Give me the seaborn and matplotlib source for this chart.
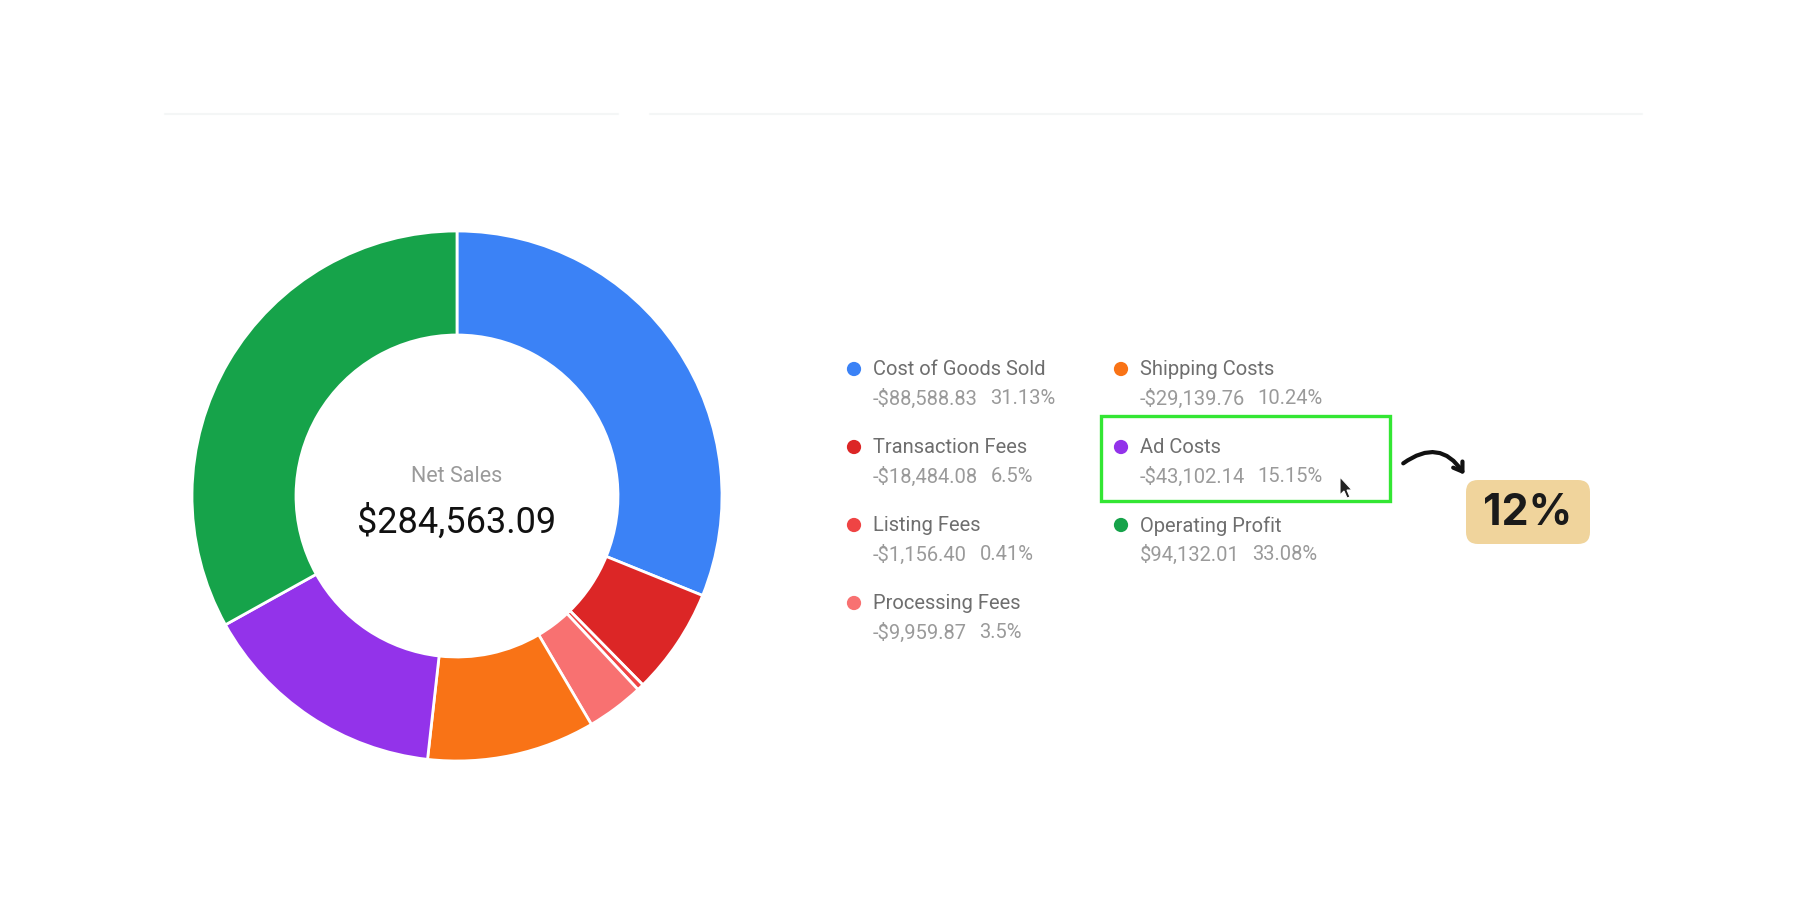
import matplotlib
matplotlib.use("Agg")
import matplotlib.pyplot as plt
from matplotlib.patches import Rectangle, FancyBboxPatch, FancyArrowPatch, Polygon
import seaborn as sns

# breakdown of net sales (slice order = legend order, col 1 then col 2)
categories = ["Cost of Goods Sold", "Transaction Fees", "Listing Fees",
              "Processing Fees", "Shipping Costs", "Ad Costs", "Operating Profit"]
amounts = [-88588.83, -18484.08, -1156.40, -9959.87, -29139.76, -43102.14, 94132.01]
percents = [31.13, 6.5, 0.41, 3.5, 10.24, 15.15, 33.08]
slice_colors = ["#3B82F6", "#DC2626", "#EF4444", "#F87171",
                "#F97316", "#9333EA", "#16A34A"]
net_sales = 284563.09
highlight = "Ad Costs"
badge_label = "12%"

sns.set_theme(style="white")
plt.rcParams["font.family"] = ["Roboto", "DejaVu Sans"]

W, H = 1800, 920
fig = plt.figure(figsize=(W / 100, H / 100), dpi=100)
fig.patch.set_facecolor("white")

# donut axes, placed in pixel terms
cx, cy, r_out, r_in = 457, 497, 265, 161
pie_ax = fig.add_axes([(cx - r_out) / W, (H - cy - r_out) / H, 2 * r_out / W, 2 * r_out / H])
pie_ax.pie(percents, colors=slice_colors, startangle=90, counterclock=False,
           radius=1.0,
           wedgeprops=dict(width=(r_out - r_in) / r_out, edgecolor="white", linewidth=2))
pie_ax.set_xlim(-1.0, 1.0)
pie_ax.set_ylim(-1.0, 1.0)
pie_ax.set_aspect("equal")
pie_ax.axis("off")

# overlay in pixel coordinates for texts and legend
ax = fig.add_axes([0, 0, 1, 1])
ax.set_xlim(0, W)
ax.set_ylim(H, 0)
ax.axis("off")
ax.patch.set_alpha(0)

# faint header rule
ax.plot([165, 618], [115, 115], color="#F4F6F6", lw=1.5)
ax.plot([650, 1642], [115, 115], color="#F4F6F6", lw=1.5)

ax.text(cx, 477, "Net Sales", ha="center", va="center", fontsize=15.5, color="#9A9A9A")
ax.text(cx, 523, f"${net_sales:,.2f}", ha="center", va="center", fontsize=26, color="#111111")


def fmt_amount(v):
    return f"-${abs(v):,.2f}" if v < 0 else f"${v:,.2f}"


col_x = [854, 1121]
row_y = [370, 448, 526, 604]
for i, (name, amt, pct, col) in enumerate(zip(categories, amounts, percents, slice_colors)):
    c = 0 if i < 4 else 1
    r = i if i < 4 else i - 4
    x, y = col_x[c], row_y[r]
    ax.scatter([x], [y], s=105, color=col, edgecolors="none", zorder=3)
    ax.text(x + 19, y, name, ha="left", va="center", fontsize=14.5, color="#6E6E6E")
    amt_txt = ax.text(x + 19, y + 29, fmt_amount(amt), ha="left", va="center",
                      fontsize=14.5, color="#9A9A9A")
    ax.annotate(f"{pct:g}%", xy=(1, 0.5), xycoords=amt_txt, xytext=(9, 0),
                textcoords="offset points", ha="left", va="center",
                fontsize=14.5, color="#9A9A9A")

# highlight box around the Ad Costs entry
hi = categories.index(highlight)
hy = row_y[hi - 4]
ax.add_patch(Rectangle((1101, hy - 31), 289, 85, fill=False, ec="#33E633", lw=2.4, zorder=4))

# mouse pointer
px, py = 1340, 478
ax.add_patch(Polygon([(px, py), (px, py + 18), (px + 4, py + 14), (px + 7, py + 21),
                      (px + 10, py + 20), (px + 7, py + 13), (px + 12, py + 13)],
                     closed=True, fc="#222222", ec="white", lw=0.8, zorder=5))

# curved arrow to the badge
ax.add_patch(FancyArrowPatch((1401, 466), (1466, 478),
                             connectionstyle="arc3,rad=-0.55",
                             arrowstyle="->,head_length=6,head_width=4",
                             color="#111111", lw=3, zorder=5))

ax.add_patch(FancyBboxPatch((1466, 481), 124, 64,
                            boxstyle="round,pad=0,rounding_size=12",
                            fc="#F0D49C", ec="none", zorder=4))
ax.text(1528, 514, badge_label, ha="center", va="center", fontsize=31,
        fontweight="bold", color="#1A1A1A", family=["Inter", "DejaVu Sans"], zorder=5)

fig.savefig("out.png", dpi=100, facecolor="white")
